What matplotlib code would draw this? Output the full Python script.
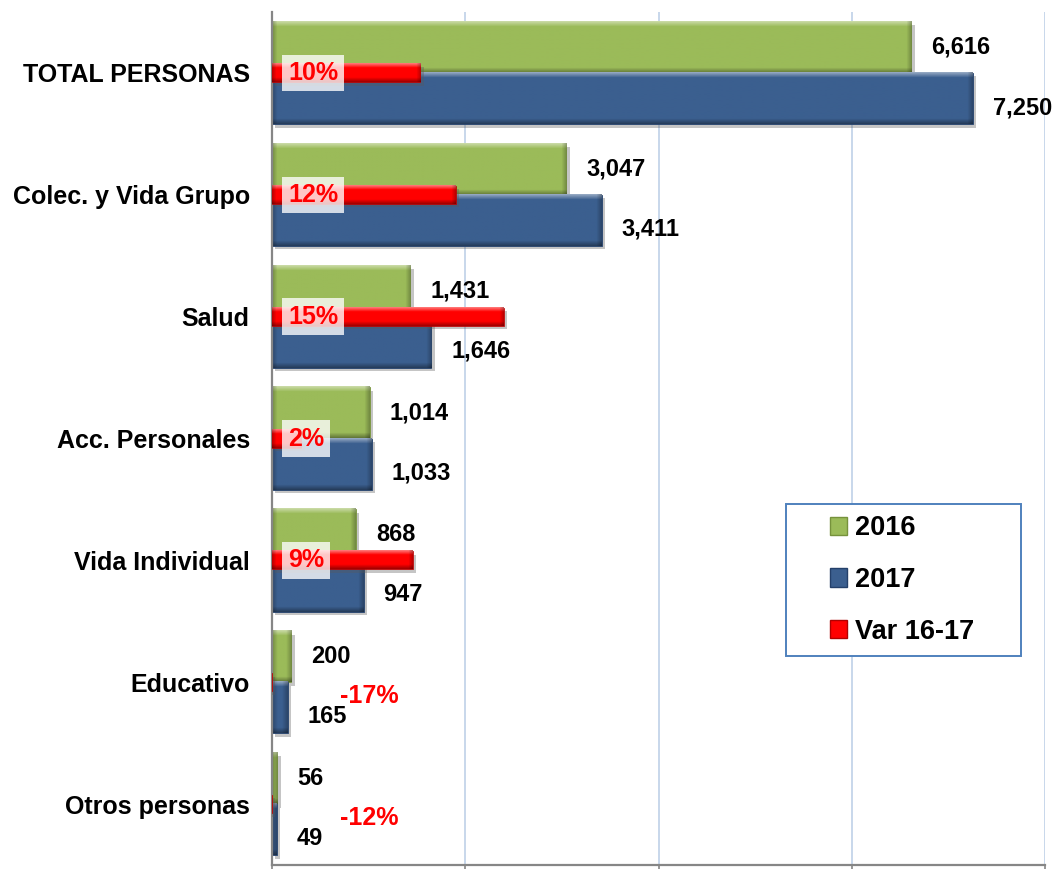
import numpy as np
import matplotlib
matplotlib.use("Agg")
import matplotlib.pyplot as plt
import matplotlib.colors as mcolors
import matplotlib.patheffects as pe
from matplotlib.patches import Patch, Rectangle

plt.rcParams['font.family'] = ['Liberation Sans', 'DejaVu Sans']
plt.rcParams['font.weight'] = 'bold'

# datos
categorias = ['TOTAL PERSONAS', 'Colec. y Vida Grupo', 'Salud', 'Acc. Personales',
              'Vida Individual', 'Educativo', 'Otros personas']
v2016 = [6616, 3047, 1431, 1014, 868, 200, 56]
v2017 = [7250, 3411, 1646, 1033, 947, 165, 49]
var1617 = [0.096, 0.119, 0.150, 0.019, 0.091, -0.17, -0.12]

C_VERDE = '#9BBB59'
C_AZUL = '#3B5F8F'
C_ROJO = '#FF0000'

W, H = 1053, 869
fig = plt.figure(figsize=(W / 100, H / 100), dpi=100)
ax = fig.add_axes([272 / W, 4 / H, (1045 - 272) / W, (865 - 12) / H])

y = np.arange(len(categorias))
alto = 0.42
ax.set_xlim(0, 8000)
ax.set_ylim(6.5, -0.5)


def bisel(axe, barra, base, borde=5):
    # gradiente simple para imitar el efecto 3D de Excel
    x, yb = barra.get_x(), barra.get_y()
    w, h = barra.get_width(), barra.get_height()
    if w <= 0:
        return
    p0, p1 = axe.transData.transform([(x, yb), (x + w, yb + h)])
    wpx = max(int(abs(p1[0] - p0[0])), 2)
    hpx = max(int(abs(p1[1] - p0[1])), 2)
    rgb = np.array(mcolors.to_rgb(base))
    img = np.tile(rgb, (hpx, wpx, 1))
    filas = np.arange(hpx)
    cols = np.arange(wpx)
    arriba = np.clip(1 - filas / borde, 0, 1)
    abajo = np.clip(1 - (hpx - 1 - filas) / borde, 0, 1)
    lado = np.clip(1 - np.minimum(cols, wpx - 1 - cols) / borde, 0, 1)
    img = img + (1 - img) * 0.45 * arriba[:, None, None]
    img = img * (1 - 0.35 * abajo[:, None, None])
    img = img * (1 - 0.25 * lado[None, :, None])
    axe.imshow(np.clip(img, 0, 1), extent=(x, x + w, yb + h, yb), aspect='auto',
               clip_path=barra, zorder=barra.get_zorder() + 0.1,
               interpolation='bilinear')


sombra = [pe.SimplePatchShadow(offset=(2.5, -2.5), shadow_rgbFace='0.35', alpha=0.35), pe.Normal()]

b16 = ax.barh(y - 0.21, v2016, height=alto, color=C_VERDE, edgecolor='#76923C', lw=0.6, zorder=2)
b17 = ax.barh(y + 0.21, v2017, height=alto, color=C_AZUL, edgecolor='#24406A', lw=0.6, zorder=2)
for b in list(b16) + list(b17):
    b.set_path_effects(sombra)
for b in b16:
    bisel(ax, b, C_VERDE)
for b in b17:
    bisel(ax, b, C_AZUL)

ax.set_xlim(0, 8000)
ax.set_ylim(6.5, -0.5)
ax.set_xticks([0, 2000, 4000, 6000, 8000])
ax.set_xticklabels([])
ax.tick_params(axis='x', length=4, width=1.2, color='#868686', direction='out')
ax.grid(axis='x', color='#B9CDE5', lw=1.1)
ax.set_axisbelow(True)
ax.set_yticks(y)
ax.set_yticklabels(categorias, fontsize=18, fontweight='bold')
ax.tick_params(axis='y', length=0, pad=16)
for s in ['top', 'right']:
    ax.spines[s].set_visible(False)
for s in ['left', 'bottom']:
    ax.spines[s].set_color('#868686')
    ax.spines[s].set_linewidth(1.6)
ax.spines['left'].set_zorder(3)

# etiquetas de valores
for i in range(len(categorias)):
    ax.annotate(f"{v2016[i]:,}", (v2016[i], y[i] - 0.21), xytext=(20, 0),
                textcoords='offset pixels', ha='left', va='center',
                fontsize=17, fontweight='bold', zorder=5)
    ax.annotate(f"{v2017[i]:,}", (v2017[i], y[i] + 0.21), xytext=(20, -9),
                textcoords='offset pixels', ha='left', va='center',
                fontsize=17, fontweight='bold', zorder=5)

# variacion en eje secundario
ax2 = ax.twiny()
ax2.set_xlim(0, 0.5)
br = ax2.barh(y, var1617, height=0.15, color=C_ROJO, edgecolor='#B00000', lw=0.5, zorder=2)
for b in br:
    b.set_path_effects(sombra)
    bisel(ax2, b, C_ROJO, borde=4)
ax2.set_xlim(0, 0.5)
ax2.set_ylim(6.5, -0.5)
ax2.set_xticks([])
for s in ax2.spines.values():
    s.set_visible(False)

for i, v in enumerate(var1617):
    if v >= 0:
        ax2.annotate(f"{v:.0%}", (0, y[i]), xytext=(16, 0), textcoords='offset pixels',
                     ha='left', va='center', color=C_ROJO, fontsize=18, fontweight='bold',
                     bbox=dict(boxstyle='square,pad=0.25', fc='white', ec='none', alpha=0.78),
                     zorder=6)
    else:
        ax2.annotate(f"{v:.0%}", (0, y[i]), xytext=(97, -14), textcoords='offset pixels',
                     ha='center', va='center', color=C_ROJO, fontsize=18, fontweight='bold',
                     zorder=6)

# leyenda
fig.patches.append(Rectangle((786 / W, 1 - 656 / H), 235 / W, 152 / H,
                             transform=fig.transFigure, facecolor='white',
                             edgecolor='#4F81BD', lw=1.4, zorder=1))
handles = [Patch(facecolor=C_VERDE, edgecolor='#76923C'),
           Patch(facecolor=C_AZUL, edgecolor='#24406A'),
           Patch(facecolor=C_ROJO, edgecolor='#B00000')]
fig.legend(handles, ['2016', '2017', 'Var 16-17'], loc='center',
           bbox_to_anchor=(902 / W, 1 - 580 / H), frameon=False,
           prop={'size': 19.5, 'weight': 'bold'}, handlelength=0.65, handleheight=0.65,
           handletextpad=0.3, labelspacing=0.95)

fig.savefig('out.png', dpi=100)
